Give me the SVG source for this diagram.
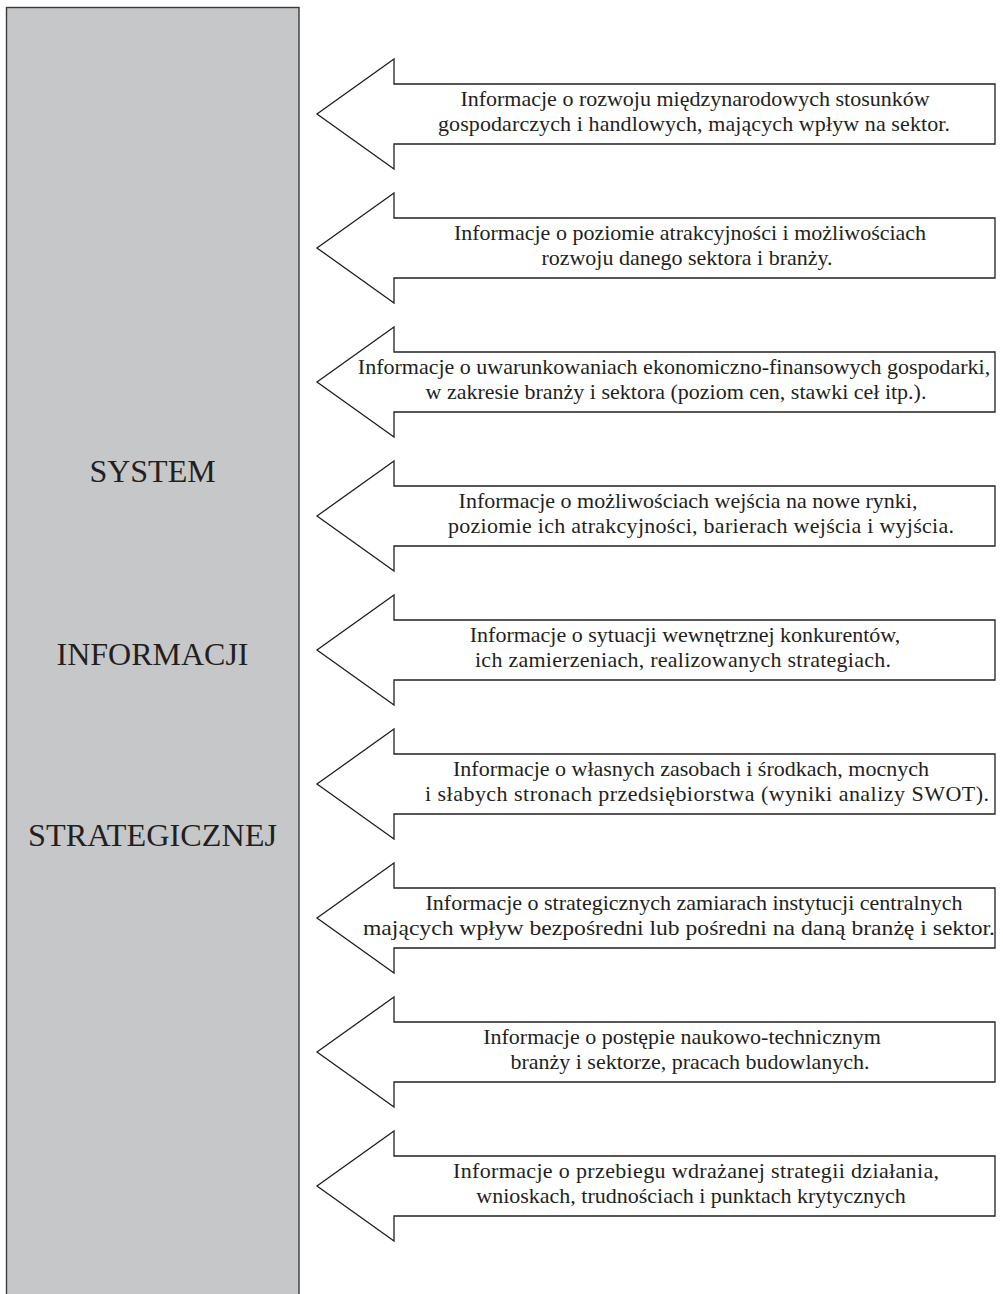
<svg xmlns="http://www.w3.org/2000/svg" width="1003" height="1294" viewBox="0 0 1003 1294">
<style>
.bar{fill:#c6c7c9;stroke:#3a3a3a;stroke-width:1.4}
.arr{fill:#ffffff;stroke:#231f20;stroke-width:1.3;stroke-linejoin:miter}
.t{font-family:"Liberation Serif","Times New Roman",serif;font-size:22px;fill:#231f20;text-anchor:middle}
.big{font-family:"Liberation Serif","Times New Roman",serif;font-size:32px;fill:#231f20;text-anchor:middle}
</style>
<defs>
<polygon id="arrowShape" points="394,-30 995,-30 995,30 394,30 394,55 317,0 394,-55"/>
</defs>
<g id="system">
<rect class="bar" x="6.5" y="7.5" width="292.5" height="1310"/>
<text class="big" x="152.5" y="482">SYSTEM</text>
<text class="big" x="152.5" y="665">INFORMACJI</text>
<text class="big" x="152.5" y="846" textLength="249" lengthAdjust="spacingAndGlyphs">STRATEGICZNEJ</text>
</g>
<g id="connectors">
<use href="#arrowShape" class="arr" transform="translate(0,114)"/>
<use href="#arrowShape" class="arr" transform="translate(0,248)"/>
<use href="#arrowShape" class="arr" transform="translate(0,382)"/>
<use href="#arrowShape" class="arr" transform="translate(0,516)"/>
<use href="#arrowShape" class="arr" transform="translate(0,650)"/>
<use href="#arrowShape" class="arr" transform="translate(0,784)"/>
<use href="#arrowShape" class="arr" transform="translate(0,918)"/>
<use href="#arrowShape" class="arr" transform="translate(0,1052)"/>
<use href="#arrowShape" class="arr" transform="translate(0,1186)"/>
</g>
<g id="info1">
<text class="t" x="695" y="106">Informacje o rozwoju międzynarodowych stosunków</text>
<text class="t" x="694" y="131" textLength="512">gospodarczych i handlowych, mających wpływ na sektor.</text>
</g>
<g id="info2">
<text class="t" x="690" y="240">Informacje o poziomie atrakcyjności i możliwościach</text>
<text class="t" x="687" y="265">rozwoju danego sektora i branży.</text>
</g>
<g id="info3">
<text class="t" x="674" y="374">Informacje o uwarunkowaniach ekonomiczno-finansowych gospodarki,</text>
<text class="t" x="676" y="399">w zakresie branży i sektora (poziom cen, stawki ceł itp.).</text>
</g>
<g id="info4">
<text class="t" x="688" y="508">Informacje o możliwościach wejścia na nowe rynki,</text>
<text class="t" x="701" y="533" textLength="506">poziomie ich atrakcyjności, barierach wejścia i wyjścia.</text>
</g>
<g id="info5">
<text class="t" x="685" y="642">Informacje o sytuacji wewnętrznej konkurentów,</text>
<text class="t" x="683" y="667" textLength="416">ich zamierzeniach, realizowanych strategiach.</text>
</g>
<g id="info6">
<text class="t" x="691" y="776">Informacje o własnych zasobach i środkach, mocnych</text>
<text class="t" x="707" y="801" textLength="564">i słabych stronach przedsiębiorstwa (wyniki analizy SWOT).</text>
</g>
<g id="info7">
<text class="t" x="694" y="910">Informacje o strategicznych zamiarach instytucji centralnych</text>
<text class="t" x="679" y="935" textLength="632" lengthAdjust="spacingAndGlyphs">mających wpływ bezpośredni lub pośredni na daną branżę i sektor.</text>
</g>
<g id="info8">
<text class="t" x="682" y="1044">Informacje o postępie naukowo-technicznym</text>
<text class="t" x="690" y="1069">branży i sektorze, pracach budowlanych.</text>
</g>
<g id="info9">
<text class="t" x="696" y="1178" textLength="486">Informacje o przebiegu wdrażanej strategii działania,</text>
<text class="t" x="691" y="1203">wnioskach, trudnościach i punktach krytycznych</text>
</g>
</svg>
